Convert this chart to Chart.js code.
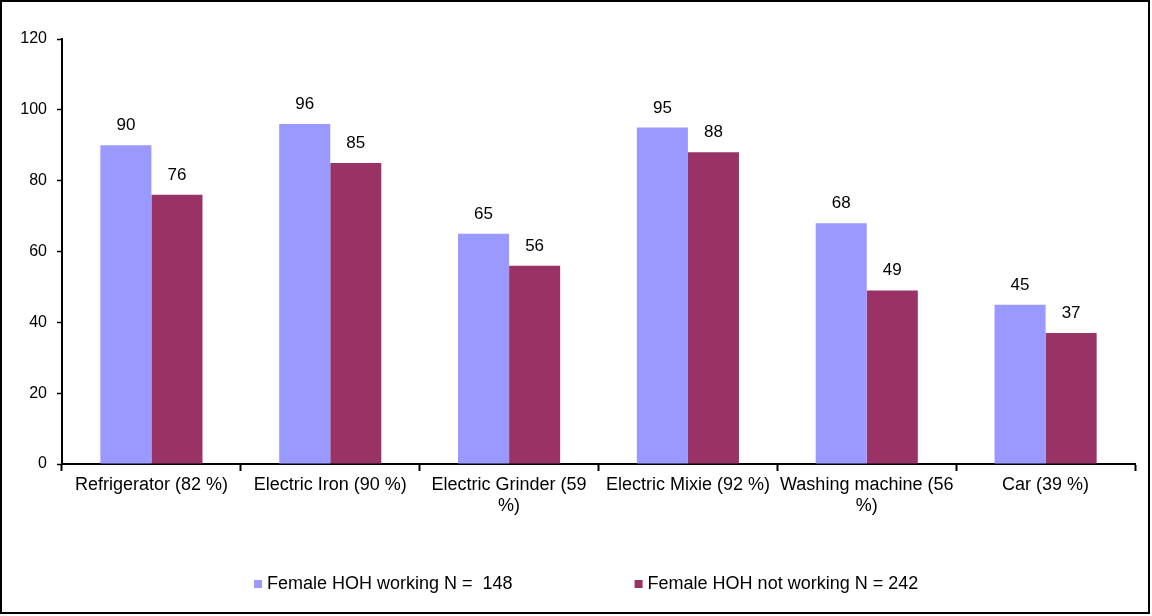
<!DOCTYPE html>
<html>
<head>
<meta charset="utf-8">
<script src="https://cdn.jsdelivr.net/npm/chart.js@4/dist/chart.umd.min.js"></script>
<style>
  html, body { margin: 0; padding: 0; background: #fff; }
  #wrap { width: 1152px; height: 616px; position: relative; }
</style>
</head>
<body>
<div id="wrap"><canvas id="c" width="1152" height="616"></canvas></div>
<script>
const categories = [
  ["Refrigerator (82 %)"],
  ["Electric Iron (90 %)"],
  ["Electric Grinder (59", "%)"],
  ["Electric Mixie (92 %)"],
  ["Washing machine (56", "%)"],
  ["Car (39 %)"]
];
const seriesNames = ["Female HOH working N =  148", "Female HOH not working N = 242"];
const working = [90, 96, 65, 95, 68, 45];
const notWorking = [76, 85, 56, 88, 49, 37];
const yTicks = { min: 0, max: 120, step: 20 };
const colors = ["#9999FF", "#993366"];

const FONT = "'Liberation Sans', Arial, sans-serif";

const valueLabels = {
  id: 'valueLabels',
  afterDatasetsDraw(chart) {
    const ctx = chart.ctx;
    ctx.save();
    ctx.font = "17px " + FONT;
    ctx.fillStyle = "#000";
    ctx.textAlign = "center";
    ctx.textBaseline = "alphabetic";
    chart.data.datasets.forEach((ds, di) => {
      const meta = chart.getDatasetMeta(di);
      meta.data.forEach((bar, i) => {
        ctx.fillText(String(ds.data[i]), bar.x, bar.y - 15);
      });
    });
    ctx.restore();
  }
};

const customLegend = {
  id: 'customLegend',
  afterDraw(chart) {
    const ctx = chart.ctx;
    ctx.save();
    ctx.font = "18px " + FONT;
    const box = 8, gapText = 5, gapItems = 122;
    const items = chart.data.datasets.map(ds => ({ text: ds.label, color: ds.backgroundColor, w: ctx.measureText(ds.label).width }));
    const ca = chart.chartArea;
    let x = ca.left + 192;
    const y = 584;
    ctx.textBaseline = "middle";
    ctx.textAlign = "left";
    items.forEach(it => {
      ctx.fillStyle = it.color;
      ctx.fillRect(x, y - box / 2, box, box);
      x += box + gapText;
      ctx.fillStyle = "#000";
      ctx.fillText(it.text, x, y);
      x += it.w + gapItems;
    });
    // outer frame
    ctx.strokeStyle = "#000";
    ctx.lineWidth = 2;
    ctx.strokeRect(1, 1, 1148, 612);
    ctx.restore();
  }
};

new Chart(document.getElementById('c'), {
  type: 'bar',
  data: {
    labels: categories,
    datasets: [
      { label: seriesNames[0], data: working, backgroundColor: colors[0], borderWidth: 0, categoryPercentage: 0.571, barPercentage: 1.0 },
      { label: seriesNames[1], data: notWorking, backgroundColor: colors[1], borderWidth: 0, categoryPercentage: 0.571, barPercentage: 1.0 }
    ]
  },
  options: {
    responsive: false,
    animation: false,
    devicePixelRatio: 1,
    layout: { padding: { top: 39, left: 0, right: 17, bottom: 92 } },
    plugins: {
      legend: { display: false },
      tooltip: { enabled: false }
    },
    scales: {
      x: {
        border: { display: true, color: "#000", width: 2 },
        grid: { display: true, offset: true, drawOnChartArea: false, drawTicks: true, tickLength: 7, tickColor: "#000", tickWidth: 2 },
        ticks: { color: "#000", font: { family: FONT, size: 18 }, padding: 3, maxRotation: 0, autoSkip: false },
        afterFit(scale) { scale.height = 60; }
      },
      y: {
        min: yTicks.min,
        max: yTicks.max,
        border: { display: true, color: "#000", width: 2 },
        grid: { display: true, drawOnChartArea: false, drawTicks: true, tickLength: 5, tickColor: "#000", tickWidth: 1.5 },
        ticks: { stepSize: yTicks.step, color: "#000", font: { family: FONT, size: 16 }, padding: 10 },
        afterFit(scale) { scale.width = 62; }
      }
    }
  },
  plugins: [valueLabels, customLegend]
});
</script>
</body>
</html>
